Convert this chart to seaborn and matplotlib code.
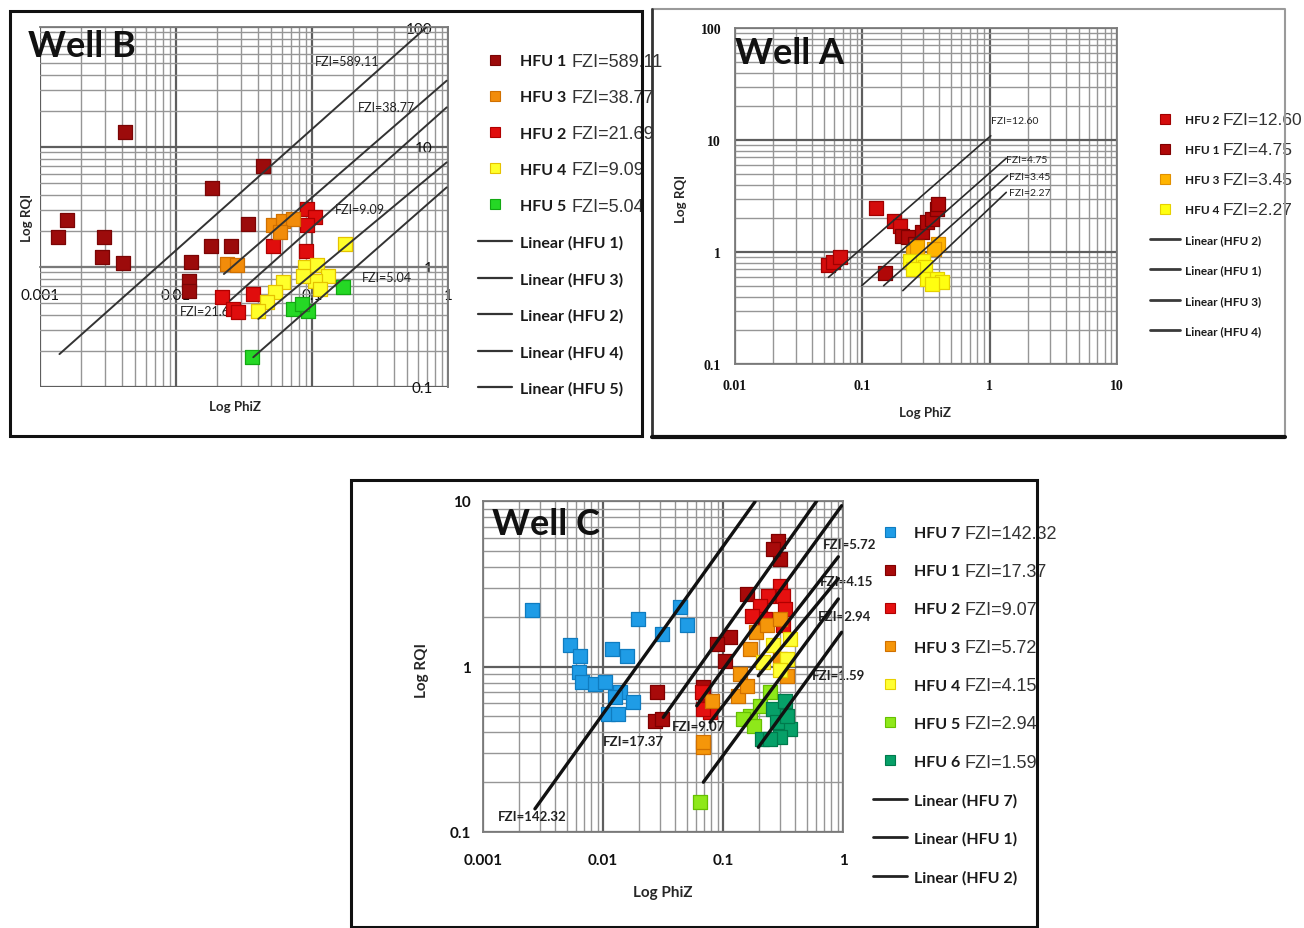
import numpy as np
import pandas as pd
import matplotlib
matplotlib.use("Agg")
import matplotlib.pyplot as plt
import seaborn as sns
from matplotlib.lines import Line2D
from matplotlib.patches import Rectangle
from matplotlib.text import Annotation
from matplotlib.ticker import LogLocator, NullFormatter

# ======================= DATA : WELL B =======================
B_units = ["HFU 1", "HFU 3", "HFU 2", "HFU 4", "HFU 5"]
B_unit_fzi = ["FZI=589.11", "FZI=38.77", "FZI=21.69", "FZI=9.09", "FZI=5.04"]
B_line_names = ["Linear (HFU 1)", "Linear (HFU 3)", "Linear (HFU 2)", "Linear (HFU 4)", "Linear (HFU 5)"]

B_hfu1_x = [0.0042, 0.0435, 0.0183, 0.00157, 0.00136, 0.00296, 0.00284, 0.0041, 0.0338, 0.018, 0.0254, 0.013, 0.0125, 0.0125]
B_hfu1_y = [13.4, 6.98, 4.53, 2.48, 1.79, 1.79, 1.22, 1.08, 2.28, 1.51, 1.51, 1.11, 0.77, 0.635]
B_hfu2_x = [0.0914, 0.105, 0.0914, 0.0516, 0.0906, 0.0218, 0.0263, 0.0287, 0.0367]
B_hfu2_y = [3.05, 2.63, 2.23, 1.50, 1.36, 0.562, 0.447, 0.421, 0.596]
B_hfu3_x = [0.0236, 0.0279, 0.0516, 0.061, 0.072, 0.0582]
B_hfu3_y = [1.06, 1.03, 2.23, 2.42, 2.51, 1.96]
B_hfu4_x = [0.175, 0.089, 0.108, 0.131, 0.105, 0.061, 0.0534, 0.0467, 0.0398, 0.114, 0.0857]
B_hfu4_y = [1.56, 1.0, 1.03, 0.84, 0.765, 0.75, 0.619, 0.511, 0.43, 0.654, 0.84]
B_hfu5_x = [0.17, 0.072, 0.094, 0.084, 0.036]
B_hfu5_y = [0.681, 0.447, 0.43, 0.49, 0.177]

B_lines_x0 = [0.00139, 0.0225, 0.0249, 0.0403, 0.037]
B_lines_x1 = [0.697, 0.978, 0.978, 0.978, 0.978]
B_lines_y0 = [0.188, 0.874, 0.524, 0.369, 0.177]
B_lines_y1 = [100.0, 35.7, 21.4, 7.45, 4.61]

B_text = ["FZI=589.11", "FZI=38.77", "FZI=9.09", "FZI=5.04", "FZI=21.69"]
B_text_x = [0.105, 0.218, 0.148, 0.233, 0.0107]
B_text_y = [52.0, 21.5, 3.04, 0.826, 0.43]

B_xticks = [0.001, 0.01, 0.1, 1]
B_xticklabels = ["0.001", "0.01", "0.1", "1"]
B_yticks = [0.1, 1, 10, 100]
B_yticklabels = ["0.1", "1", "10", "100"]

# ======================= DATA : WELL A =======================
A_units = ["HFU 2", "HFU 1", "HFU 3", "HFU 4"]
A_unit_fzi = ["FZI=12.60", "FZI=4.75", "FZI=3.45", "FZI=2.27"]
A_line_names = ["Linear (HFU 2)", "Linear (HFU 1)", "Linear (HFU 3)", "Linear (HFU 4)"]

A_hfu2_x = [0.054, 0.0592, 0.0668, 0.128, 0.178, 0.198]
A_hfu2_y = [0.766, 0.809, 0.895, 2.45, 1.91, 1.72]
A_hfu1_x = [0.151, 0.204, 0.23, 0.26, 0.293, 0.321, 0.351, 0.384, 0.395]
A_hfu1_y = [0.645, 1.40, 1.35, 1.18, 1.50, 1.84, 1.97, 2.42, 2.68]
A_hfu3_x = [0.395, 0.363, 0.252, 0.27]
A_hfu3_y = [1.18, 1.06, 0.99, 1.10]
A_hfu4_x = [0.237, 0.302, 0.311, 0.252, 0.321, 0.384, 0.42, 0.351]
A_hfu4_y = [0.836, 0.836, 0.73, 0.705, 0.574, 0.574, 0.536, 0.518]

A_lines_x0 = [0.0542, 0.0989, 0.147, 0.208]
A_lines_x1 = [1.02, 1.35, 1.38, 1.35]
A_lines_y0 = [0.594, 0.50, 0.50, 0.452]
A_lines_y1 = [10.9, 6.87, 4.80, 3.41]

A_text = ["FZI=12.60", "FZI=4.75", "FZI=3.45", "FZI=2.27"]
A_text_x = [1.03, 1.35, 1.43, 1.42]
A_text_y = [14.8, 6.76, 4.68, 3.43]

A_xticks = [0.01, 0.1, 1, 10]
A_xticklabels = ["0.01", "0.1", "1", "10"]
A_yticks = [0.1, 1, 10, 100]
A_yticklabels = ["0.1", "1", "10", "100"]

# ======================= DATA : WELL C =======================
C_units = ["HFU 7", "HFU 1", "HFU 2", "HFU 3", "HFU 4", "HFU 5", "HFU 6"]
C_unit_fzi = ["FZI=142.32", "FZI=17.37", "FZI=9.07", "FZI=5.72", "FZI=4.15", "FZI=2.94", "FZI=1.59"]
C_line_names = ["Linear (HFU 7)", "Linear (HFU 1)", "Linear (HFU 2)"]

C_hfu7_x = [0.00255, 0.00531, 0.00643, 0.00635, 0.00664, 0.00858, 0.0104, 0.0118, 0.0157, 0.0197,
            0.0308, 0.0438, 0.0498, 0.0139, 0.0179, 0.0111, 0.0134, 0.0126]
C_hfu7_y = [2.20, 1.34, 1.16, 0.923, 0.802, 0.784, 0.802, 1.28, 1.16, 1.94,
            1.57, 2.28, 1.77, 0.698, 0.608, 0.517, 0.517, 0.652]
C_hfu1_x = [0.028, 0.0271, 0.0308, 0.289, 0.299, 0.263, 0.158, 0.114, 0.0886, 0.104, 0.0686, 0.0708]
C_hfu1_y = [0.698, 0.471, 0.482, 5.75, 4.47, 5.13, 2.74, 1.50, 1.37, 1.08, 0.748, 0.621]
C_hfu2_x = [0.299, 0.318, 0.239, 0.203, 0.224, 0.173, 0.318, 0.329, 0.0664, 0.078, 0.0686]
C_hfu2_y = [3.08, 2.68, 2.68, 2.33, 1.94, 2.03, 1.77, 2.22, 0.698, 0.528, 0.553]
C_hfu3_x = [0.19, 0.231, 0.168, 0.139, 0.134, 0.158, 0.299, 0.34, 0.0805, 0.0686, 0.0686, 0.299]
C_hfu3_y = [1.61, 1.77, 1.28, 0.901, 0.667, 0.766, 1.94, 0.88, 0.621, 0.325, 0.348, 1.11]
C_hfu4_x = [0.362, 0.34, 0.263, 0.217, 0.30]
C_hfu4_y = [1.47, 1.11, 1.34, 1.06, 0.95]
C_hfu5_x = [0.0643, 0.168, 0.148, 0.203, 0.247, 0.18]
C_hfu5_y = [0.151, 0.505, 0.482, 0.58, 0.698, 0.439]
C_hfu6_x = [0.263, 0.329, 0.362, 0.299, 0.21, 0.247, 0.28, 0.34]
C_hfu6_y = [0.553, 0.621, 0.419, 0.373, 0.365, 0.365, 0.46, 0.505]

C_lines_x0 = [0.00271, 0.0318, 0.0604, 0.078, 0.197, 0.0686, 0.197]
C_lines_x1 = [0.185, 0.604, 0.975, 0.914, 0.914, 0.914, 0.975]
C_lines_y0 = [0.138, 0.493, 0.579, 0.46, 0.879, 0.20, 0.325]
C_lines_y1 = [9.9, 10.0, 9.37, 4.6, 3.4, 2.56, 1.61]

C_text = ["FZI=142.32", "FZI=17.37", "FZI=9.07", "FZI=5.72", "FZI=4.15", "FZI=2.94", "FZI=1.59"]
C_text_x = [0.00133, 0.0100, 0.0373, 0.681, 0.643, 0.619, 0.552]
C_text_y = [0.125, 0.355, 0.438, 5.49, 3.29, 2.02, 0.889]

C_xticks = [0.001, 0.01, 0.1, 1]
C_xticklabels = ["0.001", "0.01", "0.1", "1"]
C_yticks = [0.1, 1, 10]
C_yticklabels = ["0.1", "1", "10"]

# ======================= FIGURE =======================
sns.set_theme(style="white")
plt.rcParams['font.family'] = ['Lato', 'DejaVu Sans']

W, H = 1304, 929
fig = plt.figure(figsize=(W / 100, H / 100), dpi=100)
fig.patch.set_facecolor('white')


def fxy(px, py):
    return px / W, 1 - py / H


def make_axes(l, t, r, b):
    ax = fig.add_axes([l / W, 1 - b / H, (r - l) / W, (b - t) / H])
    ax.set_xscale('log')
    ax.set_yscale('log')
    return ax


def finish_axes(ax, xlim, ylim, xt, xtl, yt, ytl, tickfont, tsize, xpad, ypad):
    ax.set_xlim(*xlim)
    ax.set_ylim(*ylim)
    ax.set_xticks(xt, xtl, fontsize=tsize, fontweight='bold', family=tickfont)
    ax.set_yticks(yt, ytl, fontsize=tsize, fontweight='bold', family=tickfont)
    for axis in (ax.xaxis, ax.yaxis):
        axis.set_minor_locator(LogLocator(base=10, subs=np.arange(2, 10), numticks=100))
        axis.set_minor_formatter(NullFormatter())
    ax.grid(True, which='major', color='#5e5e5e', lw=1.6)
    ax.grid(True, which='minor', color='#969696', lw=1.0)
    ax.set_axisbelow(True)
    ax.tick_params(which='both', length=0)
    ax.tick_params(axis='x', pad=xpad, colors='#111111')
    ax.tick_params(axis='y', pad=ypad, colors='#111111')
    for s in ax.spines.values():
        s.set_color('#7c7c7c')
        s.set_linewidth(1.3)
    ax.set_xlabel('')
    ax.set_ylabel('')


def scatter(ax, xs, ys, color, edge, size):
    sns.scatterplot(x=xs, y=ys, color=color, edgecolor=edge, linewidth=0.9, marker='s',
                    s=size, ax=ax, zorder=3, legend=False)


def draw_lines(ax, x0s, x1s, y0s, y1s, color, lw):
    for x0, x1, y0, y1 in zip(x0s, x1s, y0s, y1s):
        sns.lineplot(x=[x0, x1], y=[y0, y1], color=color, lw=lw, ax=ax, zorder=4,
                     legend=False, sort=False, estimator=None)


def legend(handles, labels, fzis, left_px, top_px, fs, hl, htp, ls, fzi_fs, gap):
    leg = fig.legend(handles, labels, loc='upper left', bbox_to_anchor=fxy(left_px, top_px),
                     bbox_transform=fig.transFigure, frameon=False,
                     prop={'family': 'Lato', 'weight': 'bold', 'size': fs},
                     handlelength=hl, handletextpad=htp, labelspacing=ls,
                     borderpad=0, borderaxespad=0)
    for txt in leg.get_texts():
        txt.set_color('#1a1a1a')
    for txt, f in zip(leg.get_texts(), fzis):
        ann = Annotation(f, xy=(1, 0.5), xycoords=txt, xytext=(gap, 0),
                         textcoords='offset points', ha='left', va='center',
                         fontsize=fzi_fs, family='Liberation Sans', color='#333333', zorder=10)
        fig.add_artist(ann)
    return leg


# palette
DKRED, RED, ORANGE, YELLOW = '#9c0b0b', '#e00d0d', '#f28c0a', '#ffff2a'

# ---------------- Well B ----------------
axB = make_axes(40, 28, 448, 388)
scatter(axB, B_hfu1_x, B_hfu1_y, DKRED, '#7a0505', 110)
scatter(axB, B_hfu2_x, B_hfu2_y, RED, '#b00000', 110)
scatter(axB, B_hfu3_x, B_hfu3_y, ORANGE, '#d07000', 110)
scatter(axB, B_hfu4_x, B_hfu4_y, YELLOW, '#e6c200', 110)
scatter(axB, B_hfu5_x, B_hfu5_y, '#25d825', '#12a812', 110)
draw_lines(axB, B_lines_x0, B_lines_x1, B_lines_y0, B_lines_y1, '#333333', 1.4)
for t, x, y in zip(B_text, B_text_x, B_text_y):
    axB.text(x, y, t, fontsize=9, ha='left', va='center', color='#222222', zorder=2.5)
finish_axes(axB, (0.001, 1), (0.1, 100), B_xticks, B_xticklabels, B_yticks, B_yticklabels,
            'Lato', 10.5, 15, 11)
axB.spines['bottom'].set_position(('data', 1))
axB.spines['left'].set_position(('data', 1))

B_handles = ([Line2D([], [], ls='none', marker='s', ms=7, mfc=c, mec=e, mew=0.8)
              for c, e in [(DKRED, '#7a0505'), (ORANGE, '#d07000'), (RED, '#b00000'),
                           (YELLOW, '#e6c200'), ('#25d825', '#12a812')]]
             + [Line2D([], [], color='#333333', lw=1.6) for _ in B_line_names])
legend(B_handles, B_units + B_line_names, B_unit_fzi, 478, 55, 11.5, 2.1, 0.5, 1.38, 13, 4)

fig.text(*fxy(28, 57), "Well B", fontsize=26, fontweight='bold', ha='left', va='baseline', color='#111111')
fig.text(*fxy(235, 407), "Log PhiZ", fontsize=9.5, fontweight='bold', ha='center', va='center')
fig.text(*fxy(27, 218), "Log RQI", fontsize=9.5, fontweight='bold', ha='center', va='center', rotation=90)

# ---------------- Well A ----------------
axA = make_axes(735, 29, 1117, 365)
scatter(axA, A_hfu2_x, A_hfu2_y, '#d40c0c', '#a00000', 88)
scatter(axA, A_hfu1_x, A_hfu1_y, '#b00808', '#800000', 88)
scatter(axA, A_hfu3_x, A_hfu3_y, '#ffb400', '#e09000', 88)
scatter(axA, A_hfu4_x, A_hfu4_y, '#ffff10', '#e6d000', 88)
draw_lines(axA, A_lines_x0, A_lines_x1, A_lines_y0, A_lines_y1, '#2a2a2a', 1.2)
for t, x, y in zip(A_text, A_text_x, A_text_y):
    axA.text(x, y, t, fontsize=7.5, ha='left', va='center', color='#222222', zorder=5)
finish_axes(axA, (0.01, 10), (0.1, 100), A_xticks, A_xticklabels, A_yticks, A_yticklabels,
            'Liberation Serif', 10, 11, 10)

A_handles = ([Line2D([], [], ls='none', marker='s', ms=6.5, mfc=c, mec=e, mew=0.8)
              for c, e in [('#d40c0c', '#a00000'), ('#b00808', '#800000'),
                           ('#ffb400', '#e09000'), ('#ffff10', '#e6d000')]]
             + [Line2D([], [], color='#3a3a3a', lw=2.0) for _ in A_line_names])
legend(A_handles, A_units + A_line_names, A_unit_fzi, 1150, 115, 8.5, 2.55, 0.45, 1.62, 12.5, 2)

fig.text(*fxy(735, 64), "Well A", fontsize=26, fontweight='bold', ha='left', va='baseline', color='#111111')
fig.text(*fxy(925, 413), "Log PhiZ", fontsize=9.5, fontweight='bold', ha='center', va='center')
fig.text(*fxy(681, 199), "Log RQI", fontsize=9.5, fontweight='bold', ha='center', va='center', rotation=90)

# ---------------- Well C ----------------
axC = make_axes(483, 502, 843, 833)
scatter(axC, C_hfu7_x, C_hfu7_y, '#1f9ce6', '#0f7cc0', 110)
scatter(axC, C_hfu1_x, C_hfu1_y, '#a80a0a', '#800000', 110)
scatter(axC, C_hfu2_x, C_hfu2_y, '#e51010', '#b00000', 110)
scatter(axC, C_hfu3_x, C_hfu3_y, '#f5960a', '#d07000', 110)
scatter(axC, C_hfu4_x, C_hfu4_y, '#ffff33', '#e6d000', 110)
scatter(axC, C_hfu5_x, C_hfu5_y, '#8ee81a', '#66c000', 110)
scatter(axC, C_hfu6_x, C_hfu6_y, '#06a068', '#007a4c', 110)
draw_lines(axC, C_lines_x0, C_lines_x1, C_lines_y0, C_lines_y1, '#111111', 2.4)
for t, x, y in zip(C_text, C_text_x, C_text_y):
    axC.text(x, y, t, fontsize=9.5, fontweight='bold', ha='left', va='center',
             color='#222222', zorder=2.5)
finish_axes(axC, (0.001, 1), (0.1, 10), C_xticks, C_xticklabels, C_yticks, C_yticklabels,
            'Lato', 11, 15, 9)

C_handles = ([Line2D([], [], ls='none', marker='s', ms=7, mfc=c, mec=e, mew=0.8)
              for c, e in [('#1f9ce6', '#0f7cc0'), ('#a80a0a', '#800000'), ('#e51010', '#b00000'),
                           ('#f5960a', '#d07000'), ('#ffff33', '#e6d000'),
                           ('#8ee81a', '#66c000'), ('#06a068', '#007a4c')]]
             + [Line2D([], [], color='#222222', lw=2.0) for _ in C_line_names])
legend(C_handles, C_units + C_line_names, C_unit_fzi, 873, 527, 11.5, 2.1, 0.45, 1.5, 13, 3)

fig.text(*fxy(492, 535), "Well C", fontsize=26, fontweight='bold', ha='left', va='baseline', color='#111111')
fig.text(*fxy(663, 893), "Log PhiZ", fontsize=11, fontweight='bold', ha='center', va='center')
fig.text(*fxy(422, 670), "Log RQI", fontsize=11, fontweight='bold', ha='center', va='center', rotation=90)

# ---------------- panel frames ----------------
def frame(x0, y0, x1, y1, color, lw):
    fig.add_artist(Rectangle(fxy(x0, y1), (x1 - x0) / W, (y1 - y0) / H, transform=fig.transFigure,
                             fill=False, ec=color, lw=lw, zorder=20))


def fline(xs, ys, color, lw):
    fig.add_artist(Line2D([x / W for x in xs], [1 - y / H for y in ys], transform=fig.transFigure,
                          color=color, lw=lw, zorder=20))


frame(10, 12, 642, 437, '#111111', 2.2)
fline([652, 1285, 1285], [10, 10, 438], '#9a9a9a', 1.5)
fline([652, 652], [10, 438], '#333333', 2.0)
fline([652, 1285], [438, 438], '#111111', 3.0)
frame(351, 481, 1037, 928, '#111111', 2.2)

fig.canvas.draw()
fig.savefig("out.png", dpi=100, facecolor='white')
